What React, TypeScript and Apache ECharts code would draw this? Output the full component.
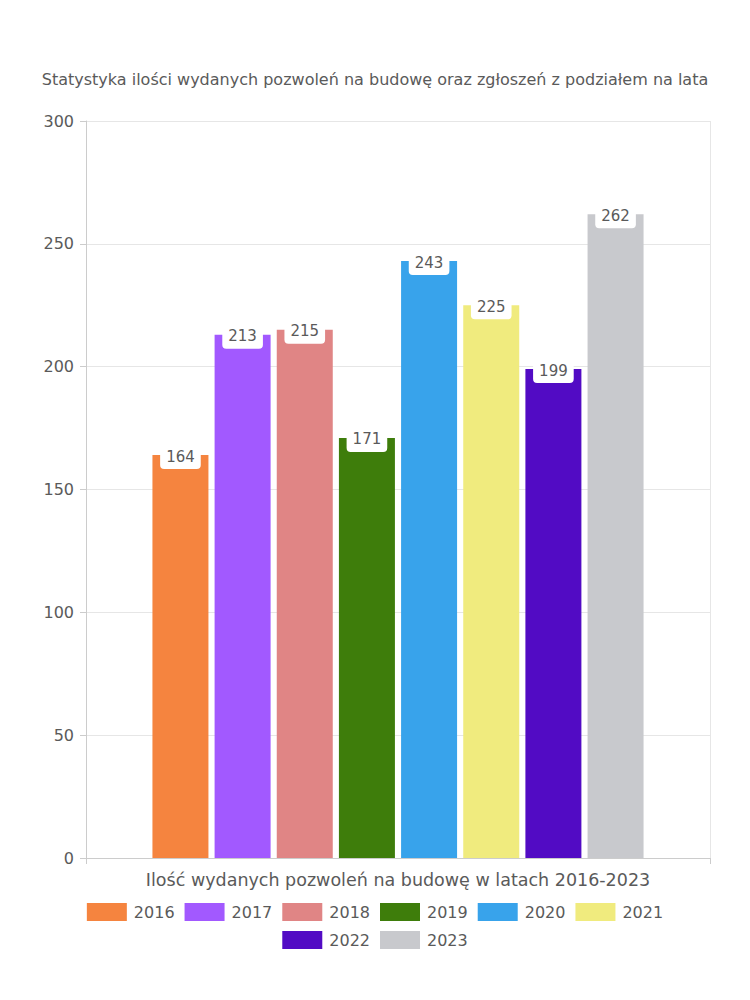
import React, { useEffect, useRef } from "react";
import * as echarts from "echarts";

const titleText = "Statystyka ilości wydanych pozwoleń na budowę oraz zgłoszeń z podziałem na lata";
const categories = ["Ilość wydanych pozwoleń na budowę w latach 2016-2023"];
const years = ["2016", "2017", "2018", "2019", "2020", "2021", "2022", "2023"];
const values = [164, 213, 215, 171, 243, 225, 199, 262];
const colors = ["#F5843F", "#A259FF", "#E08585", "#3E7D0B", "#38A3EB", "#F0EB7E", "#520BC4", "#C8C9CD"];

const FONT = "DejaVu Sans";
const TXT = "#5a5a5a";

export default function App() {
  const ref = useRef<HTMLDivElement>(null);
  useEffect(() => {
    if (!ref.current) return;
    const chart = echarts.init(ref.current, null, { renderer: "svg" });
    const legendBase = {
      left: "center",
      padding: 0,
      itemWidth: 40,
      itemHeight: 18,
      itemGap: 10,
      icon: "rect",
      textStyle: { fontFamily: FONT, fontSize: 16, color: TXT, padding: [0, 0, 0, 2] },
    };
    chart.setOption({
      animation: false,
      textStyle: { fontFamily: FONT },
      title: {
        text: titleText,
        left: "center",
        top: 71,
        padding: 0,
        textStyle: { fontFamily: FONT, fontSize: 16, fontWeight: "normal", color: TXT },
      },
      grid: { left: 86, right: 40, top: 121, bottom: 142, containLabel: false },
      legend: [
        { ...legendBase, top: 903, data: years.slice(0, 6) },
        { ...legendBase, top: 931, data: years.slice(6) },
      ],
      xAxis: {
        type: "category",
        data: categories,
        axisLine: { lineStyle: { color: "#ccc" } },
        axisTick: { show: true, length: 6, lineStyle: { color: "#ccc" } },
        splitLine: { show: true, lineStyle: { color: "#e6e6e6" } },
        axisLabel: { fontFamily: FONT, fontSize: 17.5, color: TXT, margin: 13 },
      },
      yAxis: {
        type: "value",
        min: 0,
        max: 300,
        interval: 50,
        axisLine: { show: true, lineStyle: { color: "#ccc" } },
        axisTick: { show: true, length: 6, lineStyle: { color: "#ccc" } },
        splitLine: { lineStyle: { color: "#e6e6e6" } },
        axisLabel: { fontFamily: FONT, fontSize: 16, color: TXT, margin: 12 },
      },
      series: years.map((y, i) => ({
        name: y,
        type: "bar",
        data: [values[i]],
        barWidth: 56,
        barGap: "11%",
        itemStyle: { color: colors[i] },
        label: {
          show: true,
          position: "insideTop",
          distance: 0,
          offset: [0, -10],
          backgroundColor: "#fff",
          borderRadius: [0, 0, 4, 4],
          padding: [4, 6, 5, 6],
          fontFamily: FONT,
          fontSize: 15,
          color: TXT,
        },
      })),
    });
    return () => chart.dispose();
  }, []);
  return (
    <div
      ref={ref}
      style={{ position: "absolute", left: 0, top: 0, width: 750, height: 1000 }}
    />
  );
}
